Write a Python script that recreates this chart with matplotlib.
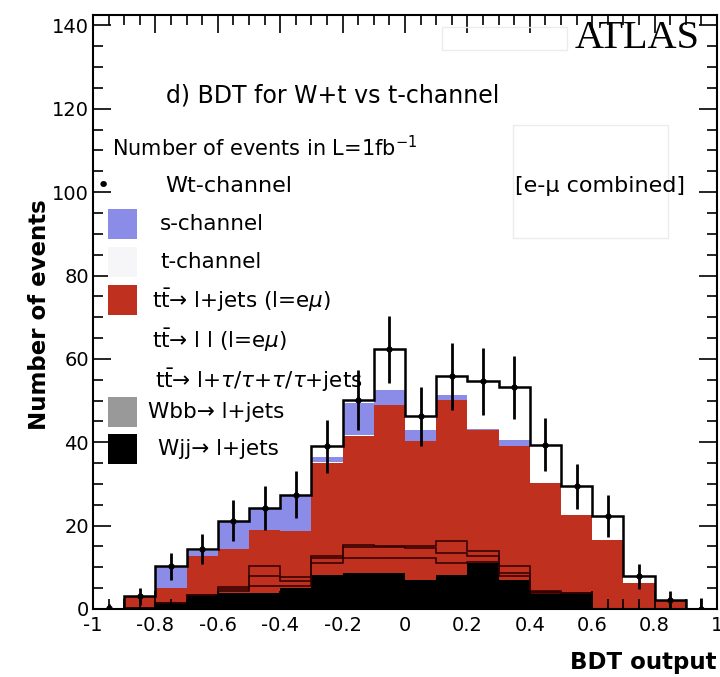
import matplotlib
matplotlib.use("Agg")
import matplotlib.pyplot as plt
from matplotlib.patches import Rectangle
from matplotlib.ticker import MultipleLocator
import numpy as np

# BDT output bins (-1 .. 1, 20 bins)
edges = np.linspace(-1, 1, 21)
centers = (edges[:-1] + edges[1:]) / 2

# stacked backgrounds, bottom to top
wjj = [0, 0.3, 1.4, 3.2, 3.8, 3.8, 5.0, 8.2, 8.6, 8.6, 7.0, 8.2, 11.0, 7.0, 3.6, 3.5, 0, 0, 0, 0]
wbb = [0, 0, 0, 0.2, 0.6, 1.6, 0.5, 2.8, 3.6, 3.6, 5.2, 2.8, 0.2, 1.0, 0.2, 0.3, 0, 0, 0, 0]
tt_ltau = [0, 0, 0, 0, 0.5, 2.4, 1.3, 1.2, 2.6, 2.6, 2.4, 2.4, 1.4, 0.6, 0.2, 0, 0, 0, 0, 0]
tt_ll = [0, 0, 0, 0, 0.4, 2.4, 0.8, 0.4, 0.5, 0.3, 0.4, 3.0, 1.2, 1.6, 0.4, 0, 0, 0, 0, 0]
tt_ljets = [0, 2.7, 3.6, 9.2, 9.0, 8.8, 11.0, 22.4, 26.1, 33.9, 25.2, 33.8, 29.2, 28.8, 25.9, 18.8, 16.6, 6.2, 2.2, 0]
t_chan = [0, 0, 0, 0.2, 0, 0, 0, 0.3, 0.3, 0, 0, 0, 0, 0, 0, 0, 0, 0, 0, 0]
s_chan = [0, 0, 5.2, 1.1, 6.7, 5.0, 8.6, 1.2, 7.7, 3.5, 2.8, 1.2, 0.2, 1.6, 0, 0, 0, 0, 0, 0]
wt_chan = [0, 0, 0, 0.4, 0.2, 0.2, 0.2, 2.5, 0.8, 9.8, 3.2, 4.4, 11.4, 12.6, 9.1, 6.8, 5.7, 1.6, 0, 0]

# Wt-channel pseudo data points
data = [0.3, 3.0, 10.2, 14.3, 21.2, 24.2, 27.4, 39.0, 50.2, 62.3, 46.2, 55.8, 54.6, 53.2, 39.4, 29.4, 22.3, 7.8, 2.2, 0]
data_err = [1.0, 2.0, 3.2, 3.6, 5.0, 5.2, 5.6, 6.4, 7.2, 8.0, 7.0, 8.1, 8.0, 7.5, 6.4, 5.5, 5.0, 3.0, 2.0, 2.6]

red = '#c0301f'
blue = '#8b8be8'
font = 'DejaVu Sans'

fig = plt.figure(figsize=(7.2, 6.77), dpi=100)
W, H = 720, 677


def px(x0, y0):
    # pixel position (from top-left) -> figure fraction
    return x0 / W, 1 - y0 / H


ax = fig.add_axes([93 / W, 1 - 609 / H, 624 / W, 594 / H])

c1 = np.array(wjj)
c2 = c1 + wbb
c3 = c2 + tt_ltau
c4 = c3 + tt_ll
c5 = c4 + tt_ljets
c6 = c5 + t_chan
c7 = c6 + s_chan
c8 = c7 + wt_chan

ax.stairs(c7, edges, baseline=c6, fill=True, color=blue)
ax.stairs(c6, edges, baseline=c5, fill=True, color='white')
ax.stairs(c5, edges, baseline=c1, fill=True, color=red)
ax.stairs(c1, edges, baseline=0, fill=True, color='black')
for c in (c2, c3, c4):
    ax.stairs(c, edges, baseline=None, color='#300000', lw=1.1)
ax.stairs(c8, edges, baseline=None, color='black', lw=1.8)

ax.errorbar(centers, data, yerr=data_err, fmt='o', color='black', ms=3.5,
            elinewidth=2, capsize=0, zorder=5)

ax.set_xlim(-1, 1)
ax.set_ylim(0, 142.5)
ax.set_xticks(np.linspace(-1, 1, 11))
ax.set_xticklabels(['-1', '-0.8', '-0.6', '-0.4', '-0.2', '0', '0.2', '0.4', '0.6', '0.8', '1'])
ax.xaxis.set_minor_locator(MultipleLocator(0.05))
ax.yaxis.set_major_locator(MultipleLocator(20))
ax.yaxis.set_minor_locator(MultipleLocator(5))
ax.tick_params(which='both', direction='in', top=True, right=True, width=1.2)
ax.tick_params(which='major', length=13)
ax.tick_params(which='minor', length=7)
ax.tick_params(axis='x', labelsize=14, pad=5)
ax.tick_params(axis='y', labelsize=14, pad=3)
for s in ax.spines.values():
    s.set_linewidth(1.5)
for lab in ax.get_xticklabels() + ax.get_yticklabels():
    lab.set_family(font)

# axis titles
fig.text(*px(717, 663), 'BDT output', ha='right', va='center', fontsize=16.5,
         fontweight='bold', family=font)
fig.text(*px(40, 315), 'Number of events', ha='center', va='center', rotation=90,
         fontsize=16.5, fontweight='bold', family=font)

# labels inside the frame
fig.text(*px(166, 95), 'd) BDT for W+t vs t-channel', ha='left', va='center',
         fontsize=17, family=font)
fig.text(*px(700, 38), 'ATLAS', ha='right', va='center', fontsize=29,
         family='Liberation Serif')
fig.text(*px(685, 186), '[e-\u03bc combined]', ha='right', va='center',
         fontsize=16, family=font)
fig.patches.append(Rectangle(px(442, 50), 125 / W, 23 / H, transform=fig.transFigure,
                             fill=False, ec='#ececec', lw=1))
fig.patches.append(Rectangle(px(513, 238), 155 / W, 113 / H, transform=fig.transFigure,
                             fill=False, ec='#ececec', lw=1))

# legend drawn by hand, ROOT style
fig.text(*px(112, 148), 'Number of events in L=1fb$^{-1}$', ha='left', va='center',
         fontsize=15, family=font)
fig.text(*px(103, 186), '\u2022', ha='center', va='center', fontsize=16, family=font)
entries = [
    (224, blue, 's-channel', 160),
    (262, '#f6f6f8', 't-channel', 160),
    (300, red, r'$\mathrm{t\bar{t}}$→ l+jets (l=e$\mu$)', 152),
    (340, None, r'$\mathrm{t\bar{t}}$→ l l (l=e$\mu$)', 152),
    (380, None, r'$\mathrm{t\bar{t}}$→ l+$\tau$/$\tau$+$\tau$/$\tau$+jets', 155),
    (412, '#999999', 'Wbb→ l+jets', 148),
    (449, 'black', 'Wjj→ l+jets', 158),
]
fig.text(*px(165, 186), 'Wt-channel', ha='left', va='center', fontsize=16, family=font)
for yc, col, txt, xt in entries:
    if col is not None:
        fig.patches.append(Rectangle(px(108, yc + 15), 29 / W, 30 / H,
                                     transform=fig.transFigure, color=col, lw=0))
    fig.text(*px(xt, yc), txt, ha='left', va='center', fontsize=15.5, family=font)

fig.savefig('out.png', dpi=100)
